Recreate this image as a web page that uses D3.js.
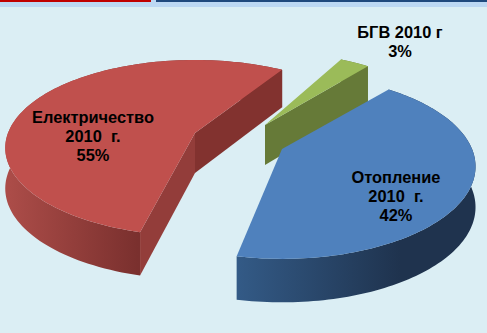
<!DOCTYPE html>
<html><head><meta charset="utf-8">
<script src="https://cdn.jsdelivr.net/npm/d3@7"></script>
<style>html,body{margin:0;padding:0;background:#dbeef4}svg{display:block}text{font-family:"Liberation Sans",Arial,sans-serif;font-weight:bold;font-size:16.4px;fill:#000;text-anchor:middle}</style>
</head><body><svg id="c" width="487" height="333"></svg>
<script>
const categories = ["Отопление","Електричество","БГВ"];
const values = [42,55,3];
const labelYears = ["2010  г.","2010  г.","2010 г"];
const percents = ["42%","55%","3%"];

const W=487,H=333;
const svg=d3.select("#c");
const defs=svg.append("defs");
svg.append("rect").attr("width",W).attr("height",H).attr("fill","#dbeef4");
svg.append("rect").attr("width",W).attr("height",7).attr("fill","#bcd8f3");
svg.append("rect").attr("width",151).attr("height",2).attr("fill","#c00000");
svg.append("rect").attr("x",156).attr("width",W-156).attr("height",2).attr("fill","#1f497d");

const wallDepth=40,wallPersp=0.08;
const deg=Math.PI/180;
const pie=d3.pie().sort(null).value(d=>d).startAngle(40*deg).endAngle(400*deg);
const arcs=pie(values);

const style=[
 {apex:[282,149],a:89,b:0.19,c:190,rot:0,top:"#4f81bd",wallX:[238,400],wall:["#335a86","#1f334e"],innerStart:null,innerEnd:null},
 {apex:[195,133],a:85.4,b:0.17,c:187,rot:3,top:"#c0504d",wallX:[10,138],wall:["#ab4c48","#7a302e"],innerStart:"#933d3a",innerEnd:"#82322f"},
 {apex:[265,125],a:87,b:0.193,c:188,rot:-1,top:"#9bbb59",wallX:[265,368],wall:["#667a38","#667a38"],innerStart:null,innerEnd:"#667a38"}
];
const line=d3.line();
// painter's order: green (furthest), red, blue
[2,1,0].forEach(i=>{
  const d=arcs[i],st=style[i];
  const s=d.startAngle+st.rot*deg,e=d.endAngle+st.rot*deg;
  const project=(u,v,drop)=>{
    const k=1+st.b*v;
    return [st.c*u/k, -st.a*v/k+(drop?wallDepth/(1+wallPersp*v):0)];
  };
  const rim=drop=>d3.range(0,121).map(j=>{
    const t=s+(e-s)*j/120;
    return project(Math.sin(t),Math.cos(t),drop);
  });
  const face=(pts,fill)=>svg.append("path")
    .attr("d",line(pts.map(p=>[p[0]+st.apex[0],p[1]+st.apex[1]]))+"Z").attr("fill",fill);
  const id="wall"+i;
  const g=defs.append("linearGradient").attr("id",id).attr("gradientUnits","userSpaceOnUse")
    .attr("x1",st.wallX[0]).attr("x2",st.wallX[1]).attr("y1",0).attr("y2",0);
  st.wall.forEach((col,j)=>g.append("stop").attr("offset",j).attr("stop-color",col));
  const O=project(0,0,false),OD=project(0,0,true);
  const P=t=>project(Math.sin(t),Math.cos(t),false),PD=t=>project(Math.sin(t),Math.cos(t),true);
  face(rim(false).concat(rim(true).reverse()),`url(#${id})`);
  if(st.innerEnd) face([O,P(e),PD(e),OD],st.innerEnd);
  if(st.innerStart) face([O,P(s),PD(s),OD],st.innerStart);
  face([O].concat(rim(false)),st.top);
});

const labelPos=[[396,183],[93,123],[400,38]];
categories.forEach((n,i)=>{
  const t=svg.append("text").attr("x",labelPos[i][0]).attr("y",labelPos[i][1]).style("white-space","pre");
  const lines=i===2?[n+" "+labelYears[i],percents[i]]:[n,labelYears[i],percents[i]];
  lines.forEach((l,j)=>t.append("tspan").attr("x",labelPos[i][0]).attr("dy",j?19:0).text(l));
});
</script></body></html>
